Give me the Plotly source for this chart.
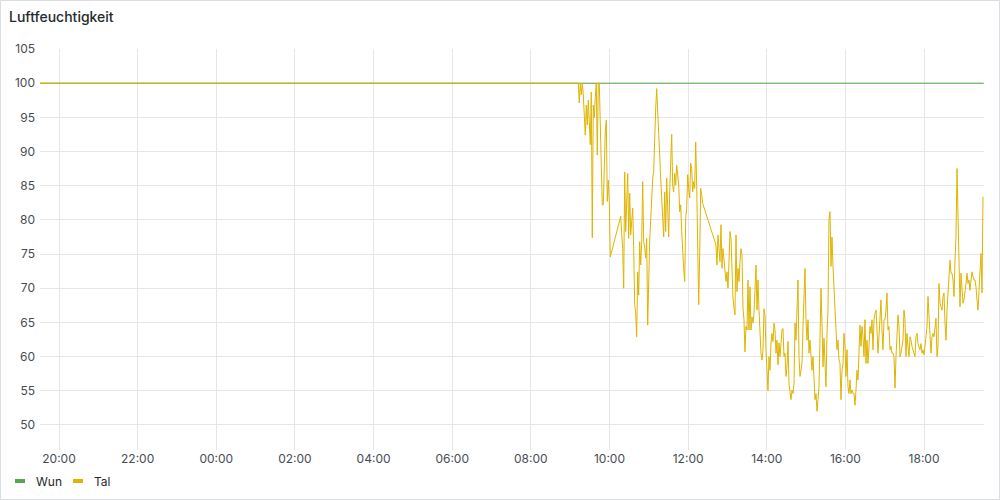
import pandas as pd
import plotly.graph_objects as go

# ---------------- data ----------------
title_text = "Luftfeuchtigkeit"
series_names = ["Wun", "Tal"]
series_colors = ["#56A64B", "#E0B400"]

wun_times = ["2024-05-01 19:31:00", "2024-05-02 19:31:00"]
wun_values = [100, 100]

tal_lead_times = ["2024-05-01 19:31:00"]
tal_lead_values = [100]

seg_starts = ["2024-05-02 09:12:24", "2024-05-02 10:17:06", "2024-05-02 12:41:00"]
sample_interval_s = 91.56

tal_seg1 = [100, 97.1, 100, 98.3, 100, 98.3, 94.0, 92.4, 96.8, 93.9,
            97.5, 94.9, 91.0, 98.7, 77.4, 96.8, 95.0, 98.0, 100, 89.5,
            100, 100, 93.9, 89.0, 82.2, 82.2, 89.5, 93.0, 94.6, 82.7,
            85.8, 82.7, 74.6]

tal_seg2 = [80.5, 78.0, 75.8, 70.0, 87.0, 78.3, 84.0, 86.8, 77.3, 83.9,
            77.8, 80.0, 81.7, 75.8, 67.6, 66.3, 62.9, 72.4, 69.0, 76.8,
            73.4, 76.8, 85.6, 76.8, 76.0, 74.4, 77.3, 64.6, 73.9, 76.8,
            80.0, 84.6, 86.0, 87.1, 93.6, 96.3, 99.2, 95.0, 93.9, 89.5,
            86.0, 82.7, 78.5, 77.5, 84.1, 78.3, 86.1, 79.7, 77.5, 84.1,
            90.0, 92.5, 85.0, 84.1, 86.8, 85.1, 88.0, 86.0, 85.1, 81.2,
            82.2, 78.3, 74.9, 72.9, 71.0, 80.2, 81.7, 86.6, 84.6, 83.2,
            88.3, 87.5, 84.1, 85.6, 84.6, 91.4, 85.1, 73.9, 67.6, 74.9,
            84.6, 83.6, 82.4]

tal_seg3 = [76.8, 76.3, 73.4, 77.8, 75.8, 73.9, 79.3, 72.9, 75.8, 74.4,
            72.4, 71.0, 72.4, 70.0, 73.9, 78.3, 77.3, 72.0, 68.6, 67.1,
            66.1, 77.8, 69.5, 72.9, 71.0, 73.9, 75.8, 74.9, 67.1, 65.4,
            60.7, 64.4, 63.9, 71.2, 63.9, 70.2, 63.9, 65.8, 64.9, 66.3,
            71.7, 73.4, 66.8, 71.2, 66.8, 62.9, 60.5, 59.5, 61.0, 67.0,
            66.0, 61.0, 57.5, 55.0, 60.0, 58.0, 62.0, 63.4, 62.2, 64.9,
            63.9, 60.5, 62.4, 58.8, 62.0, 60.0, 61.9, 64.0, 64.1, 60.0,
            60.5, 57.1, 58.5, 62.2, 56.0, 55.0, 53.7, 55.1, 54.6, 56.0,
            64.9, 62.4, 68.3, 71.2, 60.0, 57.1, 58.0, 59.0, 64.4, 68.8,
            72.9, 65.4, 62.4, 65.4, 60.5, 62.4, 59.0, 58.0, 60.0, 56.6,
            53.7, 54.6, 52.0, 53.7, 55.6, 62.4, 70.0, 64.9, 58.5, 62.7,
            58.5, 55.6, 63.4, 66.8, 80.0,
            81.2, 73.2, 77.5, 73.2, 69.7, 66.3, 63.9, 61.0, 62.4, 59.5,
            59.0, 53.7, 58.0, 59.0, 63.4, 61.5, 57.1, 61.0, 55.6, 54.6,
            56.6, 54.6, 55.1, 54.6, 54.6, 52.9, 55.1, 58.0, 56.6, 62.4,
            64.6, 61.5, 64.4, 62.9, 60.0, 65.4, 59.0, 62.4, 59.0, 61.5,
            64.4, 63.4, 65.4, 61.0, 65.4, 66.3, 66.8, 63.9, 60.5, 62.9,
            64.9, 68.3, 63.9, 61.0, 65.4, 65.4, 66.8, 69.3, 63.9, 64.4,
            61.0, 61.5, 60.5, 60.5, 60.0, 55.4, 60.0, 64.4, 66.1, 64.4,
            60.0, 60.5, 61.9, 62.4, 66.8, 65.4, 60.0, 63.4, 61.5, 60.0,
            62.9, 62.4, 61.5, 61.0, 60.5,
            60.0, 62.9, 63.4, 61.9, 61.5, 61.0, 61.9, 60.5, 61.0, 60.3,
            61.5, 62.9, 64.4, 68.8, 66.3, 62.9, 60.5, 62.9, 63.4, 62.9,
            64.4, 65.6, 60.0, 61.5, 70.7, 67.8, 67.3, 66.8, 68.8, 69.3,
            64.9, 62.4, 66.8, 68.8, 71.7, 74.1, 72.2, 72.2, 71.2, 68.8,
            74.1, 77.6, 87.5, 80.0, 73.6, 67.3, 72.2, 69.3, 67.8, 68.3,
            70.2, 70.7, 72.2, 70.7, 71.2, 69.7, 71.2, 72.4, 71.7, 71.2,
            71.2, 70.2, 68.3, 66.8, 69.7, 72.4, 75.1, 69.3, 83.4]

x_range = ["2024-05-01 19:31:00", "2024-05-02 19:31:30"]
x_tick0 = "2024-05-01 20:00:00"
y_range = [46.34, 105.001]

# ---------------- build ----------------
tal_t = list(pd.to_datetime(tal_lead_times))
tal_v = list(tal_lead_values)
for start, seg in zip(seg_starts, [tal_seg1, tal_seg2, tal_seg3]):
    times = pd.date_range(pd.Timestamp(start), periods=len(seg),
                          freq=pd.Timedelta(seconds=sample_interval_s))
    tal_t.extend(list(times))
    tal_v.extend(seg)

FONT = "Inter, 'Open Sans', sans-serif"
TICK_COLOR = "#464c54"
GRID = "#e6e6e6"

fig = go.Figure()
fig.add_trace(go.Scatter(x=pd.to_datetime(wun_times), y=wun_values, mode="lines",
                         name=series_names[0],
                         line=dict(color=series_colors[0], width=1)))
fig.add_trace(go.Scatter(x=tal_t, y=tal_v, mode="lines", name=series_names[1],
                         line=dict(color=series_colors[1], width=1)))

L, R, T, B = 40, 16, 49, 50
W, H = 1000, 500
pw, ph = W - L - R, H - T - B


def px(X):
    return (X - L) / pw


def py(Y):
    return (H - B - Y) / ph


shapes = [
    dict(type="rect", xref="paper", yref="paper",
         x0=px(0.5), x1=px(999.5), y0=py(499.5), y1=py(0.5),
         line=dict(color="#dcdddf", width=1), fillcolor="rgba(0,0,0,0)", layer="below"),
]
annotations = []
legend_pos = [(14, 35), (72, 93)]
for (dx, tx), name, col in zip(legend_pos, series_names, series_colors):
    shapes.append(dict(type="line", xref="paper", yref="paper",
                       x0=px(dx + 1), x1=px(dx + 11), y0=py(481), y1=py(481),
                       line=dict(color=col, width=4)))
    annotations.append(dict(xref="paper", yref="paper", x=px(tx - 1), y=py(481),
                            xanchor="left", yanchor="middle", showarrow=False,
                            text=name, font=dict(family=FONT, size=12, color="#24292e")))

fig.update_layout(
    width=W, height=H,
    margin=dict(l=L, r=R, t=T, b=B),
    paper_bgcolor="white", plot_bgcolor="white",
    showlegend=False,
    title=dict(text=title_text, x=9 / W, xref="container", xanchor="left",
               y=1 - 17 / H, yref="container", yanchor="middle",
               font=dict(family=FONT, size=14, color="#24292e", weight=500)),
    shapes=shapes,
    annotations=annotations,
    xaxis=dict(type="date", range=x_range, tick0=x_tick0, dtick=7200000,
               tickformat="%H:%M", showgrid=True, gridcolor=GRID, gridwidth=1,
               zeroline=False, showline=False, ticks="",
               tickfont=dict(family=FONT, size=12, color=TICK_COLOR)),
    yaxis=dict(range=y_range, tick0=50, dtick=5, showgrid=True, gridcolor=GRID,
               gridwidth=1, zeroline=False, showline=False, ticks="",
               ticklabelstandoff=4,
               tickfont=dict(family=FONT, size=12, color=TICK_COLOR)),
)

fig.write_html("out.html",
               config={"displayModeBar": False},
               post_script="document.body.style.margin='0';document.body.style.overflow='hidden';")
